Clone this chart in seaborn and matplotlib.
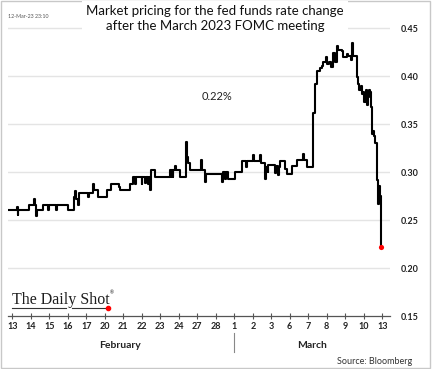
import numpy as np
import pandas as pd
import matplotlib
matplotlib.use("Agg")
import matplotlib.pyplot as plt
from matplotlib.lines import Line2D
from matplotlib.patches import Rectangle
import seaborn as sns

# ---- data (position in trading days from Feb 13, implied rate change %) ----
pos = [-0.23, 0.25, 0.29, 0.33, 0.90, 1.17, 1.23, 1.28, 1.36, 1.66, 1.93, 1.98,
       2.36, 2.42, 3.01, 3.34, 3.39, 3.44, 3.55, 3.61, 4.09, 4.14, 4.36, 4.42,
       4.63, 5.12, 5.34, 5.77, 5.80, 6.36, 6.52, 6.63, 6.67, 6.99, 7.03, 7.17,
       7.21, 7.35, 7.39, 7.44, 7.50, 7.71, 8.52, 8.56, 8.60, 8.67, 8.71, 8.79,
       8.83, 9.07, 9.40, 9.45, 9.50, 9.61, 10.18, 10.25, 10.42, 10.45, 11.34,
       11.37, 11.50, 11.54, 11.66, 12.04, 12.42, 12.65, 12.70, 13.01, 13.07,
       13.39, 13.44, 13.66, 13.72, 13.80, 13.84, 14.20, 14.26, 14.36, 14.42,
       14.47, 14.74, 14.85, 15.12, 15.39, 15.72, 15.76, 15.92, 16.27, 16.38,
       16.48, 16.64, 16.73, 16.80, 16.96, 17.01, 17.12, 17.21, 17.32, 17.35,
       17.44, 17.54, 17.61, 17.81, 17.88, 18.11, 18.15, 18.29, 18.35, 18.40,
       18.62, 18.70, 18.76, 18.83, 18.90, 18.97, 19.03, 19.11, 19.16, 19.21,
       19.28, 19.34, 19.37, 19.43, 19.48, 19.55, 19.62, 19.70, 19.73, 19.77,
       19.80, 19.86, 19.93]
rate = [0.260, 0.264, 0.255, 0.260, 0.266, 0.272, 0.266, 0.254, 0.260, 0.266, 0.260, 0.266,
        0.260, 0.266, 0.260, 0.274, 0.280, 0.272, 0.266, 0.278, 0.274, 0.278, 0.288, 0.281,
        0.274, 0.281, 0.288, 0.284, 0.281, 0.288, 0.295, 0.288, 0.295, 0.288, 0.295, 0.289,
        0.295, 0.288, 0.295, 0.281, 0.302, 0.295, 0.302, 0.295, 0.302, 0.295, 0.302, 0.306,
        0.302, 0.295, 0.331, 0.316, 0.309, 0.302, 0.312, 0.302, 0.290, 0.298, 0.290,
        0.300, 0.293, 0.300, 0.293, 0.300, 0.311, 0.305, 0.311, 0.318, 0.311,
        0.318, 0.309, 0.293, 0.305, 0.300, 0.307, 0.299, 0.306, 0.297, 0.305,
        0.311, 0.303, 0.298, 0.306, 0.312, 0.319, 0.312, 0.305, 0.361, 0.392,
        0.405, 0.408, 0.410, 0.415, 0.420, 0.413, 0.415, 0.409, 0.415, 0.424,
        0.415, 0.431, 0.427, 0.426, 0.420, 0.423, 0.421, 0.417, 0.434, 0.421,
        0.399, 0.392, 0.385, 0.390, 0.381, 0.383, 0.373, 0.385, 0.370, 0.378,
        0.385, 0.383, 0.368, 0.340, 0.343, 0.337, 0.330, 0.323, 0.292, 0.267,
        0.285, 0.275, 0.222]
day_labels = ["13", "14", "15", "16", "17", "20", "21", "22", "23", "24", "27", "28",
              "1", "2", "3", "6", "7", "8", "9", "10", "13"]
month_labels = ["February", "March"]
y_ticks = [0.15, 0.20, 0.25, 0.30, 0.35, 0.40, 0.45]

df = pd.DataFrame({"pos": pos, "rate": rate})

W, H = 432, 369
fig = plt.figure(figsize=(W / 100, H / 100), dpi=100)
plt.rcParams["font.family"] = ["Lato", "DejaVu Sans"]

def fx(x):
    return x / W

def fy(y):
    return 1 - y / H

ax = fig.add_axes([fx(8), fy(316), fx(390) - fx(8), fy(18.4) - fy(316)])
ax.set_facecolor("white")

sns.lineplot(data=df, x="pos", y="rate", ax=ax, color="black", lw=1.5,
             drawstyle="steps-post", estimator=None, sort=False)
ax.scatter([pos[-1]], [rate[-1]], color="red", s=14, zorder=5, linewidths=0)

ax.set_xlim(-0.23, 20.42)
ax.set_ylim(0.15, 0.46)
ax.set_xlabel("")
ax.set_ylabel("")

for v in y_ticks[1:]:
    ax.axhline(v, color="#e4e4e4", lw=1, zorder=0)

ax.set_xticks(range(len(day_labels)))
ax.set_xticklabels(day_labels, fontsize=6.5, fontweight="bold", color="#222222")
ax.tick_params(axis="x", direction="inout", length=4, width=0.8, color="#555555", pad=2)

ax.yaxis.tick_right()
ax.set_yticks(y_ticks)
ax.set_yticklabels([f"{v:.2f}" for v in y_ticks], fontsize=6.5, fontweight="bold",
                   color="#222222")
ax.tick_params(axis="y", length=0, pad=8)

for s in ["top", "left", "right"]:
    ax.spines[s].set_visible(False)
ax.spines["bottom"].set_color("#555555")
ax.spines["bottom"].set_linewidth(0.9)

# month labels and separator
fig.text(fx(120), fy(345), month_labels[0], ha="center", va="center", fontsize=7.5,
         fontweight="bold", color="#222222")
fig.text(fx(312), fy(345), month_labels[1], ha="center", va="center", fontsize=7.5,
         fontweight="bold", color="#222222")
fig.add_artist(Line2D([fx(234), fx(234)], [fy(333), fy(352)], color="#888888", lw=0.8))

# title
fig.text(fx(215), fy(18.5), "Market pricing for the fed funds rate change\nafter the March 2023 FOMC meeting",
         ha="center", va="center", fontsize=9.5, color="#111111", linespacing=1.25,
         bbox=dict(facecolor="white", edgecolor="none", pad=3), zorder=5)

fig.text(fx(8), fy(16), "12-Mar-23 23:10", ha="left", va="center", fontsize=3.8, color="#555555")
fig.text(fx(217), fy(96), "0.22%", ha="center", va="center", fontsize=8, color="#222222")
fig.text(fx(412), fy(361), "Source: Bloomberg", ha="right", va="center", fontsize=6.5, color="#333333")

# logo
fig.text(fx(12), fy(304), "The Daily Shot", ha="left", va="baseline", fontsize=11.5,
         family="Liberation Serif", color="#1e1e1e")
fig.text(fx(110), fy(293), "®", ha="left", va="center", fontsize=3.5, color="#1e1e1e")
fig.add_artist(Line2D([fx(12), fx(66)], [fy(308), fy(308)], color="#333333", lw=0.8))
fig.add_artist(Line2D([fx(72), fx(106)], [fy(308), fy(308)], color="#333333", lw=0.8))
fig.add_artist(Line2D([fx(108)], [fy(308)], marker="o", markersize=3, color="red", lw=0))

# border
fig.add_artist(Rectangle((0.002, 0.002), 0.994, 0.996, transform=fig.transFigure,
                         fill=False, edgecolor="#c8c8c8", lw=1))

fig.savefig("out.png", dpi=100)
